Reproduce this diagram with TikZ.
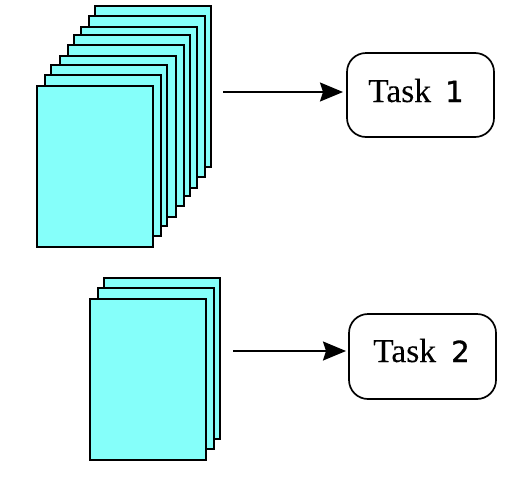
\documentclass[tikz,border=0pt]{standalone}
\usepackage{fontspec}
\setmainfont{Liberation Serif}[FakeBold=0.15]
\newfontfamily\digitfont{DejaVu Sans}[FakeBold=1.2]
\usetikzlibrary{arrows.meta}
\definecolor{sheetcyan}{HTML}{85FFFA}
\tikzset{
  x=1pt,y=-1pt,
  sheet/.style={draw=black,fill=sheetcyan,line width=2pt,minimum width=116pt,minimum height=161pt,inner sep=0pt,outer sep=0pt,anchor=north west,miter limit=10},
  taskbox/.style={draw=black,fill=white,line width=1.7pt,rounded corners=19pt,minimum width=147pt,minimum height=84pt,inner sep=0pt,outer sep=0pt,anchor=north west},
  tasklabel/.style={font=\fontsize{33.5}{36}\selectfont,inner sep=0pt,anchor=base west},
  digitlabel/.style={font=\fontsize{29}{36}\digitfont,inner sep=0pt,anchor=base west},
  flow/.style={draw=black,line width=1.7pt,-{Stealth[length=23pt,width=19pt,inset=3pt]}}
}
\begin{document}
\begin{tikzpicture}
\useasboundingbox (0,0) rectangle (518,485);
\node[sheet] (a1) at (95,6) {};
\node[sheet] (a2) at (89,16) {};
\node[sheet] (a3) at (81,27) {};
\node[sheet] (a4) at (74,35) {};
\node[sheet] (a5) at (68,45) {};
\node[sheet] (a6) at (60,56) {};
\node[sheet] (a7) at (51,65) {};
\node[sheet] (a8) at (45,75) {};
\node[sheet] (a9) at (37,86) {};
\node[sheet] (b1) at (104,278) {};
\node[sheet] (b2) at (98,288) {};
\node[sheet] (b3) at (90,299) {};
\node[taskbox] (t1) at (347,53) {};
\node[taskbox,minimum height=85pt] (t2) at (349,314) {};
\node[tasklabel] (l1) at (368,102) {Task};
\node[digitlabel] (n1) at (445,102) {1};
\node[tasklabel] (l2) at (373,362) {Task};
\node[digitlabel] (n2) at (451,362) {2};
\coordinate (s1) at (223,92);
\coordinate (s2) at (233,351);
\draw[flow,shorten >=4pt] (s1) -- (s1 -| t1.west);
\draw[flow,shorten >=3pt] (s2) -- (s2 -| t2.west);
\end{tikzpicture}
\end{document}
